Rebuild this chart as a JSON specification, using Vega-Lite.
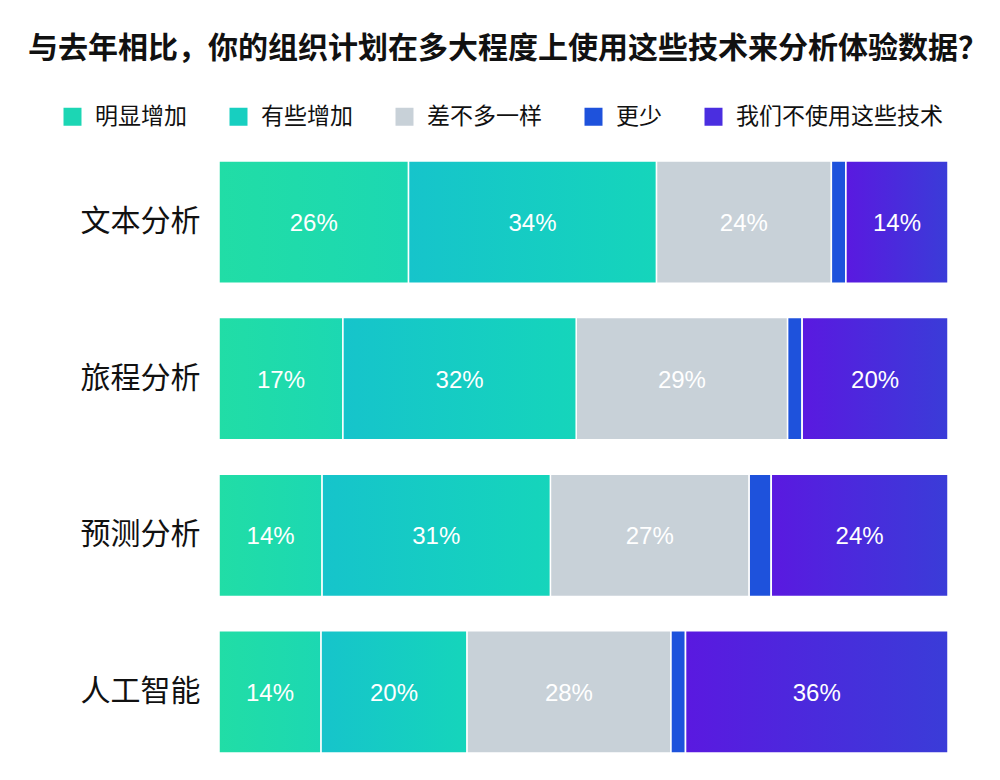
{
  "$schema": "https://vega.github.io/schema/vega-lite/v6.json",
  "autosize": {"type": "none"},
  "width": 729,
  "height": 592,
  "padding": {"left": 219, "top": 161, "right": 52, "bottom": 27},
  "background": "white",
  "title": {
    "text": "与去年相比，你的组织计划在多大程度上使用这些技术来分析体验数据？",
    "font": "Noto Sans CJK SC",
    "fontSize": 30,
    "fontWeight": "bold",
    "color": "#111111",
    "anchor": "start",
    "frame": "group",
    "dx": -191,
    "offset": 41
  },
  "data": {
    "values": [
      {"tech": "文本分析", "cat": "明显增加", "order": 1, "value": 0.26},
      {"tech": "文本分析", "cat": "有些增加", "order": 2, "value": 0.34},
      {"tech": "文本分析", "cat": "差不多一样", "order": 3, "value": 0.24},
      {"tech": "文本分析", "cat": "更少", "order": 4, "value": 0.02},
      {"tech": "文本分析", "cat": "我们不使用这些技术", "order": 5, "value": 0.14},
      {"tech": "旅程分析", "cat": "明显增加", "order": 1, "value": 0.17},
      {"tech": "旅程分析", "cat": "有些增加", "order": 2, "value": 0.32},
      {"tech": "旅程分析", "cat": "差不多一样", "order": 3, "value": 0.29},
      {"tech": "旅程分析", "cat": "更少", "order": 4, "value": 0.02},
      {"tech": "旅程分析", "cat": "我们不使用这些技术", "order": 5, "value": 0.20},
      {"tech": "预测分析", "cat": "明显增加", "order": 1, "value": 0.14},
      {"tech": "预测分析", "cat": "有些增加", "order": 2, "value": 0.31},
      {"tech": "预测分析", "cat": "差不多一样", "order": 3, "value": 0.27},
      {"tech": "预测分析", "cat": "更少", "order": 4, "value": 0.03},
      {"tech": "预测分析", "cat": "我们不使用这些技术", "order": 5, "value": 0.24},
      {"tech": "人工智能", "cat": "明显增加", "order": 1, "value": 0.14},
      {"tech": "人工智能", "cat": "有些增加", "order": 2, "value": 0.20},
      {"tech": "人工智能", "cat": "差不多一样", "order": 3, "value": 0.28},
      {"tech": "人工智能", "cat": "更少", "order": 4, "value": 0.02},
      {"tech": "人工智能", "cat": "我们不使用这些技术", "order": 5, "value": 0.36}
    ]
  },
  "transform": [
    {"stack": "value", "groupby": ["tech"], "sort": [{"field": "order", "order": "ascending"}], "as": ["x0", "x1"], "offset": "normalize"}
  ],
  "encoding": {
    "y": {
      "field": "tech",
      "type": "nominal",
      "sort": ["文本分析", "旅程分析", "预测分析", "人工智能"],
      "scale": {"paddingInner": 0.22, "paddingOuter": 0},
      "axis": {
        "title": null,
        "domain": false,
        "ticks": false,
        "labelFont": "Noto Sans CJK SC",
        "labelFontSize": 30,
        "labelColor": "#111111",
        "labelPadding": 19
      }
    }
  },
  "layer": [
    {
      "mark": {"type": "bar", "stroke": "white", "strokeWidth": 1.5},
      "encoding": {
        "x": {"field": "x0", "type": "quantitative", "scale": {"domain": [0, 1]}, "axis": null},
        "x2": {"field": "x1"},
        "color": {
          "field": "cat",
          "type": "nominal",
          "scale": {
            "domain": ["明显增加", "有些增加", "差不多一样", "更少", "我们不使用这些技术"],
            "range": ["#1cd6b4", "#17cfc0", "#c8d1d8", "#1e52dc", "#4a2ee0"]
          },
          "legend": {
            "title": null,
            "orient": "none",
            "direction": "horizontal",
            "legendX": -158,
            "legendY": -56,
            "symbolType": "square",
            "symbolSize": 324,
            "symbolStrokeWidth": 0,
            "symbolOpacity": 1,
            "labelFont": "Noto Sans CJK SC",
            "labelFontSize": 23,
            "labelColor": "#111111",
            "labelOffset": 11,
            "columnPadding": 40,
            "labelLimit": 400
          }
        }
      }
    },
    {
      "transform": [{"filter": "datum.cat === '明显增加'"}],
      "mark": {
        "type": "bar",
        "stroke": "white",
        "strokeWidth": 1.5,
        "color": {"gradient": "linear", "x1": 0, "y1": 0, "x2": 1, "y2": 0,
          "stops": [{"offset": 0, "color": "#21dda6"}, {"offset": 1, "color": "#1cd8b2"}]}
      },
      "encoding": {
        "x": {"field": "x0", "type": "quantitative", "scale": {"domain": [0, 1]}, "axis": null},
        "x2": {"field": "x1"}
      }
    },
    {
      "transform": [{"filter": "datum.cat === '有些增加'"}],
      "mark": {
        "type": "bar",
        "stroke": "white",
        "strokeWidth": 1.5,
        "color": {"gradient": "linear", "x1": 0, "y1": 0, "x2": 1, "y2": 0,
          "stops": [{"offset": 0, "color": "#16c4cb"}, {"offset": 1, "color": "#15d5bb"}]}
      },
      "encoding": {
        "x": {"field": "x0", "type": "quantitative", "scale": {"domain": [0, 1]}, "axis": null},
        "x2": {"field": "x1"}
      }
    },
    {
      "transform": [{"filter": "datum.cat === '我们不使用这些技术'"}],
      "mark": {
        "type": "bar",
        "stroke": "white",
        "strokeWidth": 1.5,
        "color": {"gradient": "linear", "x1": 0, "y1": 0, "x2": 1, "y2": 0,
          "stops": [{"offset": 0, "color": "#5a19e0"}, {"offset": 1, "color": "#3a3cd8"}]}
      },
      "encoding": {
        "x": {"field": "x0", "type": "quantitative", "scale": {"domain": [0, 1]}, "axis": null},
        "x2": {"field": "x1"}
      }
    },
    {
      "transform": [
        {"filter": "datum.value >= 0.05"},
        {"fold": ["x0", "x1"], "as": ["edge", "pos"]}
      ],
      "mark": {"type": "text", "color": "white", "font": "Liberation Sans", "fontSize": 24, "align": "center", "baseline": "middle", "dy": 2},
      "encoding": {
        "x": {"field": "pos", "type": "quantitative", "aggregate": "mean", "scale": {"domain": [0, 1]}, "axis": null},
        "detail": {"field": "cat"},
        "text": {"field": "value", "type": "quantitative", "format": ".0%"}
      }
    }
  ],
  "config": {"view": {"stroke": null}}
}
